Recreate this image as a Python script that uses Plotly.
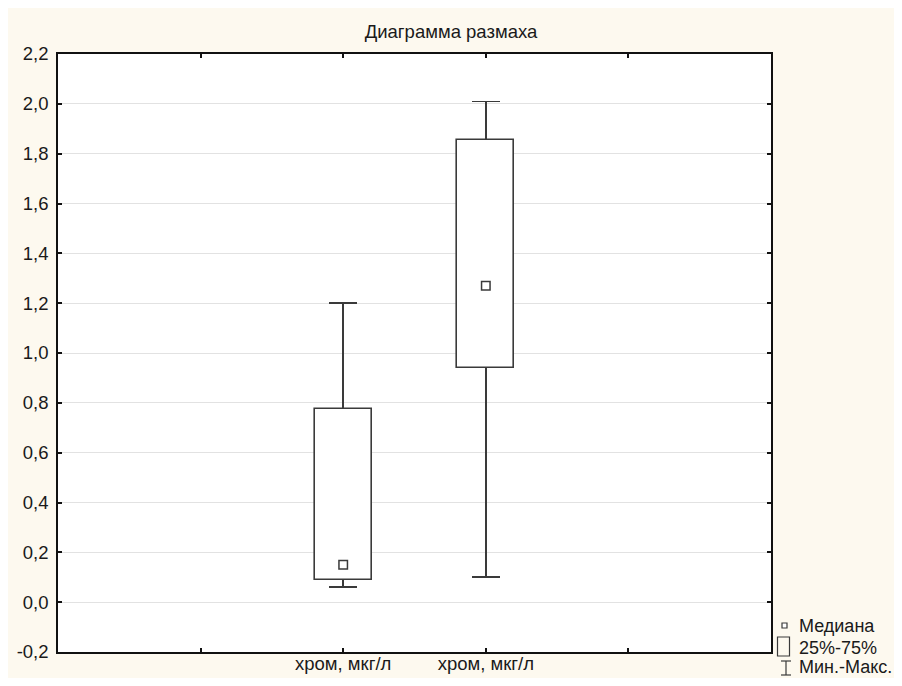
import plotly.graph_objects as go

# ---- data ----
positions = [2, 3]
category_labels = ["хром, мкг/л", "хром, мкг/л"]
x_tickvals = [1, 2, 3, 4]
x_ticktext = ["", "хром, мкг/л", "хром, мкг/л", ""]
mins = [0.06, 0.10]
q1s = [0.09, 0.94]
medians = [0.15, 1.27]
q3s = [0.775, 1.853]
maxs = [1.20, 2.01]
y_tickvals = [-0.2, 0.0, 0.2, 0.4, 0.6, 0.8, 1.0, 1.2, 1.4, 1.6, 1.8, 2.0, 2.2]
y_ticktext = ["-0,2", "0,0", "0,2", "0,4", "0,6", "0,8", "1,0", "1,2", "1,4", "1,6", "1,8", "2,0", "2,2"]
title_text = "Диаграмма размаха"
legend_labels = ["Медиана", "25%-75%", "Мин.-Макс."]

FONT = "Liberation Sans, Arial, sans-serif"
LINE = "#3a3a3a"
CREAM = "#fdf9ef"
FS = 18.5

fig = go.Figure()

# whiskers: invisible bar up to the median carrying min..max error bars
fig.add_trace(go.Bar(
    x=positions, y=medians, width=0.4,
    marker=dict(color="rgba(0,0,0,0)", line=dict(width=0)),
    error_y=dict(type="data", symmetric=False,
                 array=[mx - md for mx, md in zip(maxs, medians)],
                 arrayminus=[md - mn for mn, md in zip(mins, medians)],
                 color=LINE, thickness=1.6, width=14),
    hoverinfo="skip", showlegend=False))

# boxes (25%-75%), drawn over the whisker line
fig.add_trace(go.Bar(
    x=positions, y=[b - a for a, b in zip(q1s, q3s)], base=q1s, width=0.4,
    marker=dict(color="white", line=dict(color=LINE, width=1.6)),
    hoverinfo="skip", showlegend=False))

# medians
fig.add_trace(go.Scatter(
    x=positions, y=medians, mode="markers",
    marker=dict(symbol="square", size=8.5, color="white",
                line=dict(color=LINE, width=1.5)),
    hoverinfo="skip", showlegend=False))

fig.update_layout(
    width=886, height=670,
    margin=dict(l=50, r=123, t=46, b=26),
    paper_bgcolor=CREAM, plot_bgcolor="white",
    font=dict(family=FONT, size=FS, color="#1a1a1a"),
    title=dict(text=title_text, x=0.5, xref="container", xanchor="center",
               y=1 - 24 / 670, yref="container", yanchor="middle",
               font=dict(family=FONT, size=FS, color="#1a1a1a")),
    showlegend=False,
    barmode="overlay",
    bargap=0,
)

fig.update_xaxes(
    range=[0, 5], tickvals=x_tickvals, ticktext=x_ticktext,
    ticks="inside", ticklen=4, tickwidth=1.5, tickcolor="#111",
    showline=True, linecolor="#111", linewidth=1.5, mirror="ticks",
    showgrid=False, zeroline=False, fixedrange=True, automargin=False,
    ticklabelstandoff=-6)
fig.update_yaxes(
    range=[-0.2, 2.2], tickvals=y_tickvals, ticktext=y_ticktext,
    ticks="inside", ticklen=4, tickwidth=1.5, tickcolor="#111",
    showline=True, linecolor="#111", linewidth=1.5, mirror="ticks",
    showgrid=True, gridcolor="#e2e2e2", gridwidth=1.2,
    zeroline=False, ticklabelstandoff=4, fixedrange=True, automargin=False)

# custom legend (bottom right, outside plot)
shapes = [
    # median square
    dict(type="rect", xref="paper", yref="paper", xsizemode="pixel", ysizemode="pixel",
         xanchor=1, yanchor=0, x0=11, x1=16, y0=24, y1=29,
         line=dict(color=LINE, width=1.2), fillcolor="white"),
    # box rectangle
    dict(type="rect", xref="paper", yref="paper", xsizemode="pixel", ysizemode="pixel",
         xanchor=1, yanchor=0, x0=6.5, x1=18.5, y0=-4, y1=15,
         line=dict(color=LINE, width=1.2), fillcolor=CREAM),
    # I-beam
    dict(type="line", xref="paper", yref="paper", xsizemode="pixel", ysizemode="pixel",
         xanchor=1, yanchor=0, x0=15, x1=15, y0=-9, y1=-23,
         line=dict(color=LINE, width=1.2)),
    dict(type="line", xref="paper", yref="paper", xsizemode="pixel", ysizemode="pixel",
         xanchor=1, yanchor=0, x0=10, x1=20, y0=-9, y1=-9,
         line=dict(color=LINE, width=1.2)),
    dict(type="line", xref="paper", yref="paper", xsizemode="pixel", ysizemode="pixel",
         xanchor=1, yanchor=0, x0=10, x1=20, y0=-23, y1=-23,
         line=dict(color=LINE, width=1.2)),
]
fig.update_layout(shapes=shapes)

for label, yshift in zip(legend_labels, [26, 4, -15]):
    fig.add_annotation(text=label, xref="paper", yref="paper", x=1, y=0,
                       xanchor="left", yanchor="middle", xshift=27, yshift=yshift,
                       borderpad=0,
                       showarrow=False, font=dict(family=FONT, size=18, color="#1a1a1a"))

fig.write_html("out.html")
